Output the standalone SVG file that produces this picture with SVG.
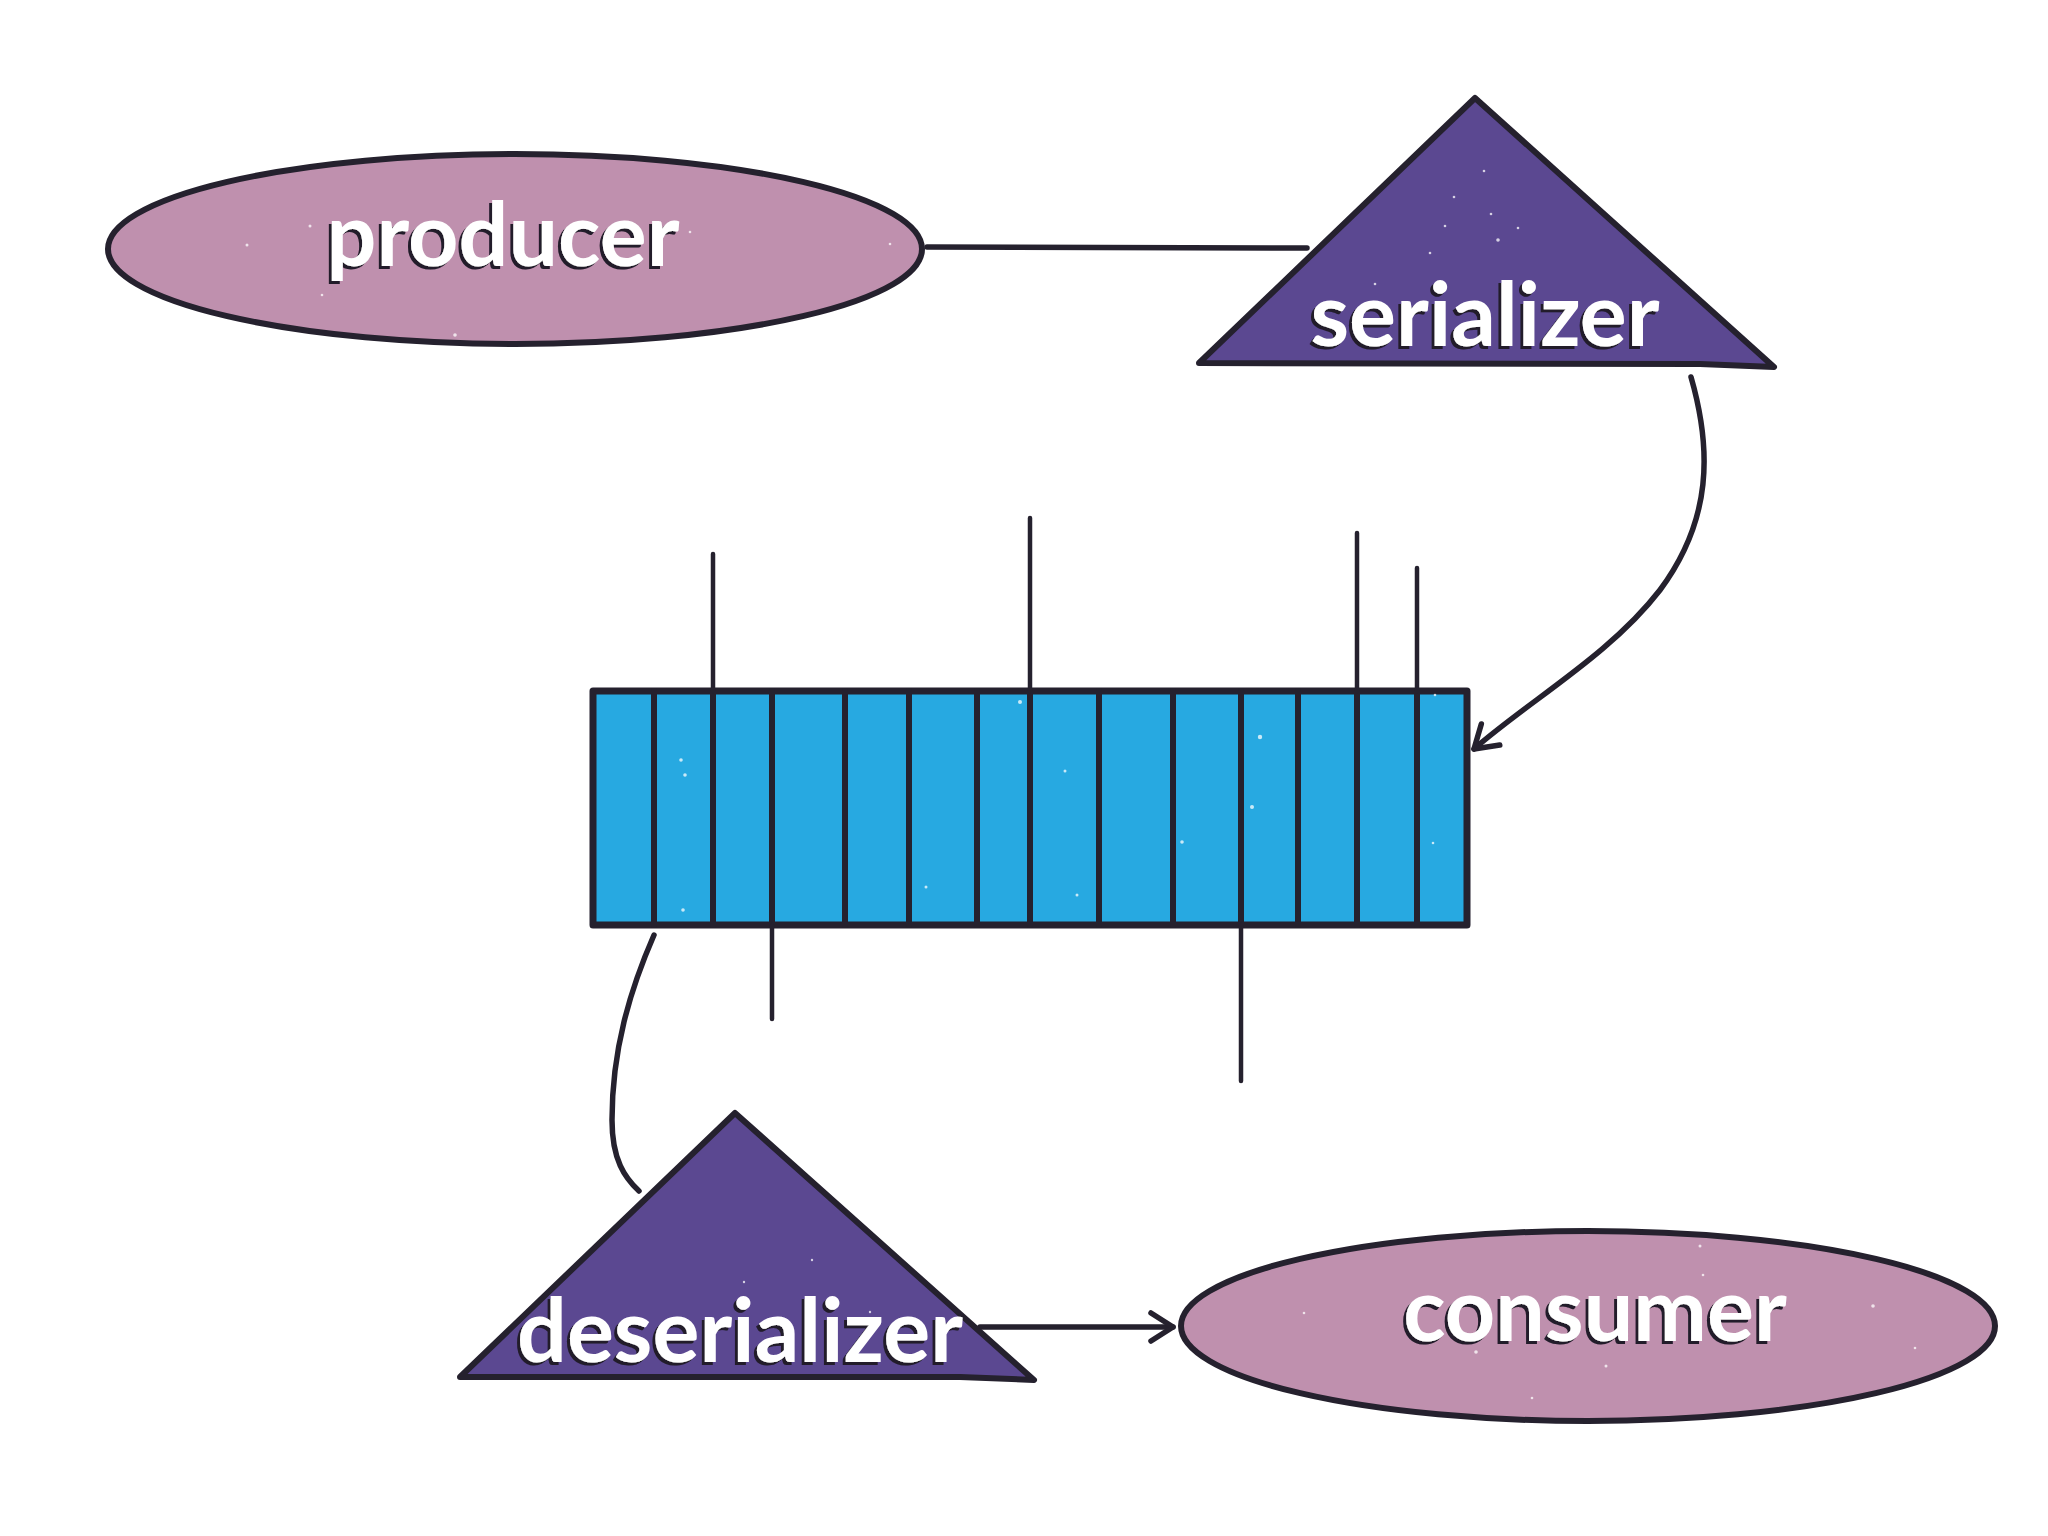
<svg xmlns="http://www.w3.org/2000/svg" width="2048" height="1536" viewBox="0 0 2048 1536">
  <defs>
    <filter id="shadow" x="-10%" y="-20%" width="120%" height="140%">
      <feDropShadow dx="-3" dy="3" stdDeviation="0.6" flood-color="#221e2b" flood-opacity="1"/>
    </filter>
    <marker id="open" viewBox="-26 -18 30 36" markerWidth="30" markerHeight="36" refX="0" refY="0" orient="auto" markerUnits="userSpaceOnUse">
      <path d="M -22 -14 L 0 0 L -22 14" fill="none" stroke="#25212e" stroke-width="5.5" stroke-linecap="round" stroke-linejoin="round"/>
    </marker>
    <style>
      .ell { fill: #bf90ae; stroke: #25212e; stroke-width: 6; }
      .tri { fill: #5b4891; stroke: #25212e; stroke-width: 6; stroke-linejoin: round; }
      .queue { fill: #27a9e1; stroke: #25212e; stroke-width: 7; stroke-linejoin: round; }
      .div { stroke: #25212e; stroke-width: 6; stroke-linecap: round; }
      .tick { stroke: #25212e; stroke-width: 4.5; stroke-linecap: round; }
      .edge { fill: none; stroke: #25212e; stroke-width: 5.5; stroke-linecap: round; }
      .label { font-family: Lato, "Open Sans", "Liberation Sans", sans-serif; font-weight: 700; font-size: 88px; fill: #ffffff; text-anchor: middle; filter: url(#shadow); }
      .dot { fill: #ffffff; opacity: 0.75; }
    </style>
  </defs>

  <rect width="2048" height="1536" fill="#ffffff"/>

  <g id="connectors">
    <path class="edge" d="M 927 247 L 1307 248"/>
    <path class="edge" d="M 1691 377 C 1712 450 1712 520 1660 590 C 1610 655 1530 700 1474 749" marker-end="url(#open)"/>
    <path class="edge" d="M 654 935 C 630 990 612 1050 612 1120 C 612 1160 625 1178 639 1191"/>
    <path class="edge" d="M 980 1327 L 1173 1327" marker-end="url(#open)"/>
  </g>

  <g id="producer">
    <ellipse class="ell" cx="515" cy="249" rx="407" ry="95"/>
    <g class="dot">
      <circle cx="310" cy="226" r="1.5"/><circle cx="247" cy="245" r="1.5"/><circle cx="455" cy="335" r="1.8"/>
      <circle cx="690" cy="232" r="1.3"/><circle cx="890" cy="244" r="1.3"/><circle cx="322" cy="295" r="1.3"/>
    </g>
    <text class="label" x="503" y="266">producer</text>
  </g>

  <g id="serializer">
    <polygon class="tri" points="1475,98 1774,367 1700,364 1199,363"/>
    <g class="dot">
      <circle cx="1484" cy="171" r="1.3"/><circle cx="1454" cy="197" r="1.3"/><circle cx="1445" cy="226" r="1.3"/>
      <circle cx="1498" cy="240" r="1.8"/><circle cx="1430" cy="253" r="1.3"/><circle cx="1375" cy="284" r="1.3"/>
      <circle cx="1518" cy="228" r="1.3"/><circle cx="1491" cy="214" r="1.3"/>
    </g>
    <text class="label" x="1485" y="346">serializer</text>
  </g>

  <g id="queue">
    <rect class="queue" x="593" y="691" width="874" height="234"/>
    <g class="dot">
      <circle cx="681" cy="760" r="1.8"/><circle cx="685" cy="775" r="1.8"/><circle cx="683" cy="910" r="1.8"/>
      <circle cx="1020" cy="702" r="2"/><circle cx="1065" cy="771" r="1.5"/><circle cx="1260" cy="737" r="2.2"/>
      <circle cx="1252" cy="807" r="2"/><circle cx="1182" cy="842" r="1.8"/><circle cx="1077" cy="895" r="1.5"/>
      <circle cx="926" cy="887" r="1.5"/><circle cx="1435" cy="695" r="1.3"/><circle cx="1433" cy="843" r="1.3"/>
    </g>
    <line class="div" x1="654" y1="691" x2="654" y2="925"/>
    <line class="div" x1="713" y1="691" x2="713" y2="925"/>
    <line class="div" x1="772" y1="691" x2="772" y2="925"/>
    <line class="div" x1="845" y1="691" x2="845" y2="925"/>
    <line class="div" x1="909" y1="691" x2="909" y2="925"/>
    <line class="div" x1="977" y1="691" x2="977" y2="925"/>
    <line class="div" x1="1030" y1="691" x2="1030" y2="925"/>
    <line class="div" x1="1099" y1="691" x2="1099" y2="925"/>
    <line class="div" x1="1173" y1="691" x2="1173" y2="925"/>
    <line class="div" x1="1241" y1="691" x2="1241" y2="925"/>
    <line class="div" x1="1298" y1="691" x2="1298" y2="925"/>
    <line class="div" x1="1357" y1="691" x2="1357" y2="925"/>
    <line class="div" x1="1417" y1="691" x2="1417" y2="925"/>
    <line class="tick" x1="713" y1="554" x2="713" y2="691"/>
    <line class="tick" x1="1030" y1="518" x2="1030" y2="691"/>
    <line class="tick" x1="1357" y1="533" x2="1357" y2="691"/>
    <line class="tick" x1="1417" y1="568" x2="1417" y2="691"/>
    <line class="tick" x1="772" y1="925" x2="772" y2="1019"/>
    <line class="tick" x1="1241" y1="925" x2="1241" y2="1081"/>
  </g>

  <g id="deserializer">
    <polygon class="tri" points="735,1113 1034,1380 960,1377 460,1377"/>
    <g class="dot">
      <circle cx="681" cy="1150" r="1.2"/><circle cx="744" cy="1282" r="1.2"/><circle cx="812" cy="1260" r="1.2"/>
      <circle cx="870" cy="1312" r="1.2"/>
    </g>
    <text class="label" x="740" y="1362">deserializer</text>
  </g>

  <g id="consumer">
    <ellipse class="ell" cx="1588" cy="1326" rx="407" ry="95"/>
    <g class="dot">
      <circle cx="1700" cy="1246" r="1.5"/><circle cx="1703" cy="1275" r="1.3"/><circle cx="1476" cy="1352" r="1.8"/>
      <circle cx="1873" cy="1306" r="1.8"/><circle cx="1606" cy="1366" r="1.5"/><circle cx="1915" cy="1348" r="1.3"/>
      <circle cx="1304" cy="1313" r="1.3"/><circle cx="1532" cy="1398" r="1.3"/>
    </g>
    <text class="label" x="1595" y="1341">consumer</text>
  </g>
</svg>
